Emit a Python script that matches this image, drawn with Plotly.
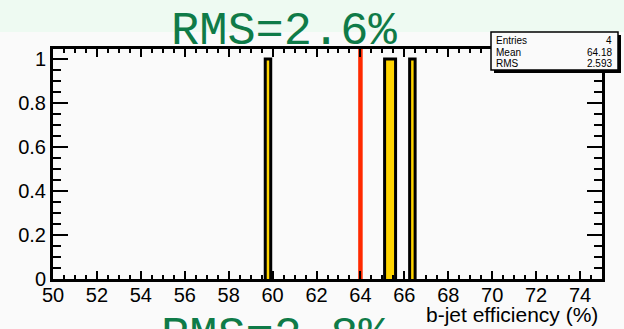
import plotly.graph_objects as go

# Histogram of b-jet efficiency (%), one entry per bin
bin_centers = [59.79, 65.225, 65.475, 66.365]
bin_width = 0.25
bin_counts = [1, 1, 1, 1]

# Reference value marked with a vertical line
ref_value = 64.0

# Statistics box contents
stats_labels = ["Entries", "Mean", "RMS"]
stats_values = ["4", "64.18", "2.593"]

x_range = [50, 75]
y_range = [0, 1.045]
y_tickvals = [0, 0.2, 0.4, 0.6, 0.8, 1]
y_ticktext = ["0", "0.2", "0.4", "0.6", "0.8", "1"]

title_top = "RMS=2.6%"
title_bottom = "RMS=2.8%"
x_title = "b-jet efficiency (%)"

W, H = 624, 329
ML, MR, MT, MB = 53, 22, 49, 50
PW, PH = W - ML - MR, H - MT - MB


def px(x):
    return (x - ML) / PW


def py(y):
    return (H - MB - y) / PH


# Build the histogram outline: contiguous bins are merged into one polygon
bins = sorted(zip(bin_centers, bin_counts))
hx, hy = [], []
prev_hi = None
for c, n in bins:
    lo, hi = c - bin_width / 2, c + bin_width / 2
    if prev_hi is not None and abs(lo - prev_hi) < 1e-6:
        hx += [lo, hi]
        hy += [n, n]
    else:
        if hx:
            hx += [prev_hi, None]
            hy += [0, None]
        hx += [lo, lo, hi]
        hy += [0, n, n]
    prev_hi = hi
hx += [prev_hi]
hy += [0]

fig = go.Figure()
fig.add_trace(go.Scatter(
    x=hx, y=hy, mode="lines", fill="toself", fillcolor="#ffd400",
    line=dict(color="black", width=3), hoverinfo="skip", showlegend=False,
))
fig.add_trace(go.Scatter(
    x=[ref_value, ref_value], y=y_range, mode="lines",
    line=dict(color="#ff2a00", width=4.5), showlegend=False,
))

axis_font = dict(family="Liberation Sans, Arial, Helvetica", size=20, color="black")

fig.update_xaxes(
    range=x_range, tick0=50, dtick=2, ticks="inside", ticklen=8, tickwidth=2,
    tickcolor="black", showline=True, linewidth=3, linecolor="black",
    mirror="ticks", showgrid=False, zeroline=False, tickfont=axis_font,
    ticklabelstandoff=-4,
    minor=dict(dtick=0.5, ticklen=4, tickwidth=1.5, ticks="inside", tickcolor="black", showgrid=False),
)
fig.update_yaxes(
    range=y_range, tickvals=y_tickvals, ticktext=y_ticktext, ticks="inside",
    ticklen=15, tickwidth=2, tickcolor="black", showline=True, linewidth=3,
    linecolor="black", mirror="ticks", showgrid=False, zeroline=False,
    tickfont=axis_font,
    minor=dict(dtick=0.05, ticklen=8, tickwidth=1.5, ticks="inside", tickcolor="black", showgrid=False),
)

shapes = [
    # light band at the top of the page
    dict(type="rect", xref="paper", yref="paper", x0=px(0), x1=px(W), y0=py(0), y1=py(32),
         fillcolor="#eefaf2", line=dict(width=0), layer="below"),
    # stats box shadow and box
    dict(type="rect", xref="paper", yref="paper", x0=px(494), x1=px(621), y0=py(35), y1=py(73),
         fillcolor="black", line=dict(width=0), layer="above"),
    dict(type="rect", xref="paper", yref="paper", x0=px(491), x1=px(618), y0=py(32), y1=py(70),
         fillcolor="#fafafa", line=dict(color="black", width=1.5), layer="above"),
]

stat_font = dict(family="Liberation Sans, Arial, Helvetica", size=10, color="black")
annotations = []
for i, (lab, val) in enumerate(zip(stats_labels, stats_values)):
    yy = 41 + i * 11.5
    annotations.append(dict(x=px(494), y=py(yy), xref="paper", yref="paper", text=lab,
                            showarrow=False, xanchor="left", yanchor="middle", font=stat_font))
    annotations.append(dict(x=px(614), y=py(yy), xref="paper", yref="paper", text=val,
                            showarrow=False, xanchor="right", yanchor="middle", font=stat_font))

title_font = dict(family="Courier New, Liberation Mono, monospace", size=47, color="#0f7b48")
annotations.append(dict(x=px(284), y=py(31), xref="paper", yref="paper", text=title_top,
                        showarrow=False, xanchor="center", yanchor="middle", font=title_font))
annotations.append(dict(x=px(274), y=py(336), xref="paper", yref="paper", text=title_bottom,
                        showarrow=False, xanchor="center", yanchor="middle", font=title_font))
annotations.append(dict(x=px(600), y=py(314), xref="paper", yref="paper", text=x_title,
                        showarrow=False, xanchor="right", yanchor="middle",
                        font=dict(family="Liberation Sans, Arial, Helvetica", size=21, color="black")))

fig.update_layout(
    width=W, height=H, margin=dict(l=ML, r=MR, t=MT, b=MB),
    paper_bgcolor="#fafafa", plot_bgcolor="#fafafa",
    shapes=shapes, annotations=annotations, showlegend=False,
)

fig.write_html("out.html")
